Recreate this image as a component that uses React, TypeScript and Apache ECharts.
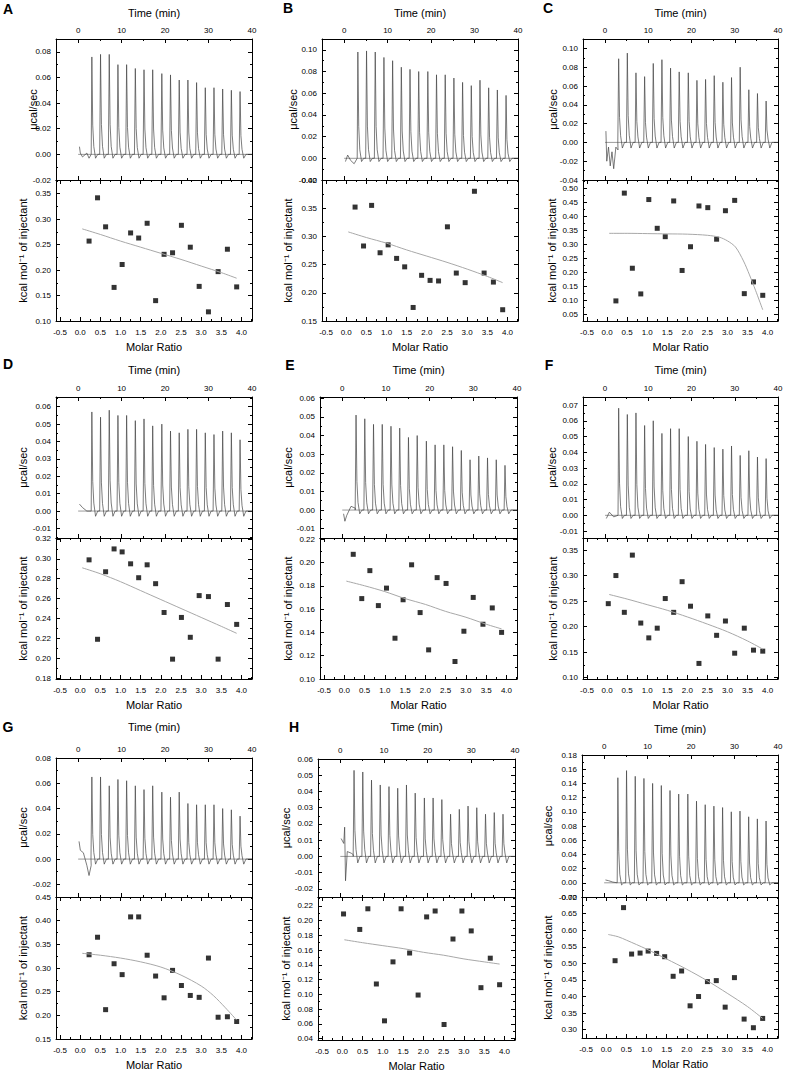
import React, { useEffect, useRef } from "react";
import * as echarts from "echarts";

const FONT = '"Liberation Sans", Arial, Helvetica, sans-serif';

// shared axes
const TIME_RANGE = [-5.1, 40];
const MOLAR_RANGE = [-0.6, 4.26];
const TIME_MAJOR = [0, 10, 20, 30, 40];
const TIME_MINOR = [-5, 5, 15, 25, 35];
const MOLAR_MAJOR = [-0.5, 0, 0.5, 1, 1.5, 2, 2.5, 3, 3.5, 4];
const MOLAR_MINOR = [-0.25, 0.25, 0.75, 1.25, 1.75, 2.25, 2.75, 3.25, 3.75, 4.25];
const INJ_TIMES = [3.1, 5.1, 7.1, 9.1, 11.1, 13.1, 15.1, 17.1, 19.2, 21.2, 23.2, 25.2, 27.2, 29.2, 31.2, 33.2, 35.2, 37.2];
const MR18 = [0.22, 0.43, 0.63, 0.84, 1.04, 1.25, 1.45, 1.66, 1.87, 2.08, 2.29, 2.51, 2.73, 2.95, 3.18, 3.42, 3.65, 3.88];
const MR_F = [0.03, 0.22, 0.43, 0.63, 0.84, 1.04, 1.25, 1.45, 1.66, 1.87, 2.08, 2.29, 2.51, 2.73, 2.95, 3.18, 3.42, 3.65, 3.88];
const MR_H = [0.03, 0.43, 0.63, 0.84, 1.04, 1.25, 1.45, 1.66, 1.87, 2.08, 2.29, 2.51, 2.73, 2.95, 3.18, 3.42, 3.65, 3.88];
// peak shape template (time offset, fraction of peak height)
const PEAK_DT = [-0.15, 0.05, 0.25, 0.5];
const PEAK_FRAC = [0, 1, 0.3, 0.08];

// Panel A
const A_PEAKS = [0.076, 0.078, 0.078, 0.07, 0.07, 0.067, 0.066, 0.066, 0.063, 0.062, 0.058, 0.058, 0.056, 0.052, 0.052, 0.051, 0.05, 0.049];
const A_HEATS = [0.257, 0.342, 0.285, 0.166, 0.211, 0.273, 0.263, 0.292, 0.14, 0.231, 0.234, 0.288, 0.245, 0.168, 0.118, 0.197, 0.241, 0.167];
const A_FIT = [[0.05, 0.281], [0.5, 0.27], [1, 0.257], [1.5, 0.245], [2, 0.233], [2.5, 0.221], [3, 0.208], [3.5, 0.195], [3.88, 0.184]];
const A_START = [[0.3, 0.006], [0.5, 0.001], [1, -0.002], [2, 0.001], [2.5, -0.003], [3, 0]];
// Panel B
const B_PEAKS = [0.098, 0.099, 0.098, 0.093, 0.09, 0.084, 0.082, 0.08, 0.08, 0.077, 0.077, 0.074, 0.07, 0.067, 0.072, 0.065, 0.063, 0.058];
const B_HEATS = [0.352, 0.283, 0.355, 0.271, 0.285, 0.261, 0.246, 0.174, 0.231, 0.222, 0.221, 0.317, 0.235, 0.218, 0.38, 0.235, 0.219, 0.17];
const B_FIT = [[0.05, 0.308], [0.5, 0.298], [1, 0.288], [1.5, 0.276], [2, 0.265], [2.5, 0.254], [3, 0.242], [3.5, 0.229], [3.88, 0.218]];
const B_START = [[0.3, -0.003], [0.8, 0.003], [1.5, -0.002], [2.3, -0.005], [3, 0]];
// Panel C
const C_PEAKS = [0.089, 0.095, 0.074, 0.07, 0.084, 0.088, 0.079, 0.075, 0.074, 0.066, 0.067, 0.071, 0.064, 0.069, 0.08, 0.056, 0.052, 0.044];
const C_HEATS = [0.097, 0.483, 0.214, 0.122, 0.46, 0.357, 0.327, 0.455, 0.206, 0.291, 0.437, 0.431, 0.318, 0.42, 0.457, 0.123, 0.165, 0.117];
const C_FIT = [[0.05, 0.339], [0.5, 0.339], [1, 0.338], [1.5, 0.337], [2, 0.336], [2.5, 0.332], [2.8, 0.325], [3.0, 0.312], [3.2, 0.29], [3.4, 0.24], [3.55, 0.19], [3.7, 0.135], [3.88, 0.065]];
const C_START = [[0.2, 0.012], [0.4, -0.02], [0.8, -0.005], [1.2, -0.025], [1.6, -0.01], [2, -0.028], [2.5, -0.005], [3, -0.008]];
// Panel D
const D_PEAKS = [0.057, 0.054, 0.058, 0.055, 0.055, 0.052, 0.053, 0.049, 0.05, 0.046, 0.045, 0.047, 0.047, 0.045, 0.044, 0.046, 0.045, 0.041];
const D_HEATS = [0.299, 0.219, 0.287, 0.31, 0.307, 0.295, 0.281, 0.294, 0.275, 0.246, 0.199, 0.241, 0.221, 0.263, 0.262, 0.199, 0.254, 0.234];
const D_FIT = [[0.05, 0.291], [0.5, 0.285], [1, 0.277], [1.5, 0.268], [2, 0.259], [2.5, 0.25], [3, 0.241], [3.5, 0.232], [3.88, 0.225]];
const D_START = [[0.3, 0.004], [1, 0.002], [2, 0], [3, 0]];
// Panel E
const E_PEAKS = [0.051, 0.049, 0.046, 0.046, 0.045, 0.044, 0.039, 0.04, 0.037, 0.035, 0.035, 0.034, 0.032, 0.027, 0.029, 0.028, 0.027, 0.024];
const E_HEATS = [0.207, 0.169, 0.193, 0.163, 0.178, 0.135, 0.168, 0.198, 0.157, 0.125, 0.187, 0.182, 0.115, 0.141, 0.17, 0.147, 0.161, 0.14];
const E_FIT = [[0.05, 0.184], [0.5, 0.18], [1, 0.175], [1.5, 0.169], [2, 0.164], [2.5, 0.158], [3, 0.153], [3.5, 0.147], [3.88, 0.143]];
const E_START = [[0.3, -0.002], [0.6, -0.006], [1, -0.003], [2, 0.002], [3, 0.001]];
// Panel F
const F_PEAKS = [0.068, 0.064, 0.065, 0.057, 0.06, 0.052, 0.055, 0.055, 0.05, 0.047, 0.045, 0.043, 0.042, 0.044, 0.038, 0.041, 0.037, 0.036];
const F_HEATS = [0.245, 0.3, 0.228, 0.34, 0.207, 0.178, 0.197, 0.255, 0.228, 0.288, 0.24, 0.128, 0.221, 0.183, 0.211, 0.148, 0.197, 0.154, 0.152];
const F_FIT = [[0.05, 0.263], [0.5, 0.254], [1, 0.243], [1.5, 0.232], [2, 0.219], [2.5, 0.205], [3, 0.19], [3.5, 0.172], [3.88, 0.156]];
const F_START = [[0.3, -0.002], [1, 0.002], [2, -0.001], [3, 0]];
// Panel G
const G_PEAKS = [0.065, 0.065, 0.058, 0.063, 0.062, 0.058, 0.055, 0.058, 0.053, 0.049, 0.053, 0.044, 0.043, 0.043, 0.043, 0.04, 0.039, 0.034];
const G_HEATS = [0.328, 0.365, 0.212, 0.309, 0.286, 0.408, 0.408, 0.327, 0.283, 0.237, 0.295, 0.263, 0.242, 0.238, 0.321, 0.196, 0.197, 0.187];
const G_FIT = [[0.05, 0.331], [0.5, 0.327], [1, 0.321], [1.5, 0.313], [2, 0.302], [2.5, 0.285], [3, 0.262], [3.3, 0.242], [3.6, 0.216], [3.88, 0.19]];
const G_START = [[0.2, 0.014], [0.5, 0.007], [1.2, 0.005], [2, -0.005], [2.5, -0.013], [3, -0.005]];
// Panel H
const H_PEAKS = [0.053, 0.052, 0.047, 0.044, 0.043, 0.042, 0.044, 0.039, 0.036, 0.036, 0.035, 0.026, 0.029, 0.031, 0.03, 0.026, 0.027, 0.026];
const H_HEATS = [0.209, 0.188, 0.216, 0.114, 0.064, 0.144, 0.216, 0.156, 0.099, 0.205, 0.213, 0.059, 0.175, 0.213, 0.186, 0.109, 0.149, 0.113];
const H_FIT = [[0.05, 0.174], [0.5, 0.17], [1, 0.166], [1.5, 0.162], [2, 0.157], [2.5, 0.153], [3, 0.148], [3.5, 0.144], [3.88, 0.141]];
const H_START = [[0.2, 0.011], [0.8, 0.008], [1, 0.018], [1.2, -0.015], [1.6, 0.003], [2.5, 0.002], [3, 0.001]];
// Panel I
const I_PEAKS = [0.148, 0.158, 0.15, 0.147, 0.14, 0.137, 0.13, 0.125, 0.125, 0.115, 0.11, 0.108, 0.106, 0.1, 0.101, 0.093, 0.09, 0.087];
const I_HEATS = [0.508, 0.668, 0.528, 0.531, 0.537, 0.53, 0.52, 0.461, 0.477, 0.372, 0.4, 0.445, 0.448, 0.368, 0.457, 0.332, 0.306, 0.334];
const I_FIT = [[0.05, 0.587], [0.3, 0.58], [0.5, 0.57], [1, 0.543], [1.5, 0.513], [2, 0.482], [2.5, 0.448], [3, 0.41], [3.5, 0.37], [3.88, 0.334]];
const I_START = [[0.3, 0.004], [1, 0.003], [2, 0.001], [3, 0]];

type Panel = {
  letter: string;
  l: number; r: number; t: number; m: number; b: number;
  topY: number[]; topStep: number; topMinor: number;
  botY: number[]; botStep: number; botMinor: number;
  peaks: number[]; start: number[][]; dip: number;
  mr: number[]; heats: number[]; fit: number[][];
  topGap: number; botGap: number; titleGap: number;
  lx: number; ly: number;
};

const PANELS: Panel[] = [
  { letter: "A", l: 56, r: 252, t: 39, m: 180, b: 321, topY: [-0.02, 0.09], topStep: 0.02, topMinor: 0.01, botY: [0.1, 0.377], botStep: 0.05, botMinor: 0.025, peaks: A_PEAKS, start: A_START, dip: -0.003, mr: MR18, heats: A_HEATS, fit: A_FIT, topGap: 23, botGap: 33, titleGap: 26, lx: 8, ly: 9 },
  { letter: "B", l: 322, r: 518, t: 39, m: 180, b: 321, topY: [-0.02, 0.11], topStep: 0.02, topMinor: 0.01, botY: [0.15, 0.4], botStep: 0.05, botMinor: 0.025, peaks: B_PEAKS, start: B_START, dip: -0.003, mr: MR18, heats: B_HEATS, fit: B_FIT, topGap: 29, botGap: 34, titleGap: 26, lx: 288, ly: 8 },
  { letter: "C", l: 583, r: 778, t: 39, m: 180, b: 321, topY: [-0.04, 0.11], topStep: 0.02, topMinor: 0.01, botY: [0.025, 0.53], botStep: 0.05, botMinor: 0.025, peaks: C_PEAKS, start: C_START, dip: -0.006, mr: MR18, heats: C_HEATS, fit: C_FIT, topGap: 30, botGap: 31, titleGap: 26, lx: 548, ly: 8 },
  { letter: "D", l: 56, r: 252, t: 397, m: 538, b: 679, topY: [-0.0155, 0.0656], topStep: 0.01, topMinor: 0.005, botY: [0.179, 0.321], botStep: 0.02, botMinor: 0.01, peaks: D_PEAKS, start: D_START, dip: -0.003, mr: MR18, heats: D_HEATS, fit: D_FIT, topGap: 33, botGap: 33, titleGap: 27, lx: 8, ly: 364 },
  { letter: "E", l: 320, r: 517, t: 397, m: 538, b: 679, topY: [-0.015, 0.0607], topStep: 0.01, topMinor: 0.005, botY: [0.1, 0.221], botStep: 0.02, botMinor: 0.01, peaks: E_PEAKS, start: E_START, dip: -0.002, mr: MR18, heats: E_HEATS, fit: E_FIT, topGap: 32, botGap: 32, titleGap: 27, lx: 290, ly: 365 },
  { letter: "F", l: 583, r: 778, t: 397, m: 538, b: 679, topY: [-0.0144, 0.0751], topStep: 0.01, topMinor: 0.005, botY: [0.0975, 0.3735], botStep: 0.05, botMinor: 0.025, peaks: F_PEAKS, start: F_START, dip: -0.002, mr: MR_F, heats: F_HEATS, fit: F_FIT, topGap: 31, botGap: 30, titleGap: 27, lx: 549, ly: 365 },
  { letter: "G", l: 56, r: 252, t: 758, m: 897, b: 1039, topY: [-0.03, 0.08], topStep: 0.02, topMinor: 0.01, botY: [0.15, 0.45], botStep: 0.05, botMinor: 0.025, peaks: G_PEAKS, start: G_START, dip: -0.004, mr: MR18, heats: G_HEATS, fit: G_FIT, topGap: 33, botGap: 33, titleGap: 31, lx: 8, ly: 727 },
  { letter: "H", l: 318, r: 515, t: 759, m: 897, b: 1040, topY: [-0.025, 0.06], topStep: 0.01, topMinor: 0.005, botY: [0.038, 0.232], botStep: 0.02, botMinor: 0.01, peaks: H_PEAKS, start: H_START, dip: -0.004, mr: MR_H, heats: H_HEATS, fit: H_FIT, topGap: 32, botGap: 32, titleGap: 32, lx: 294, ly: 727 },
  { letter: "", l: 582, r: 778, t: 755, m: 897, b: 1038, topY: [-0.02, 0.18], topStep: 0.02, topMinor: 0.01, botY: [0.275, 0.7], botStep: 0.05, botMinor: 0.025, peaks: I_PEAKS, start: I_START, dip: -0.003, mr: MR18, heats: I_HEATS, fit: I_FIT, topGap: 34, botGap: 34, titleGap: 26, lx: 0, ly: 0 },
];

function tickValues(min: number, max: number, step: number, exclude?: number) {
  const out: number[] = [];
  const k0 = Math.ceil(min / step - 1e-6);
  const k1 = Math.floor(max / step + 1e-6);
  for (let k = k0; k <= k1; k++) {
    const v = Math.round(k * step * 1e6) / 1e6;
    if (exclude) {
      const q = v / exclude;
      if (Math.abs(q - Math.round(q)) < 1e-6) continue;
    }
    out.push(v);
  }
  return out;
}

function buildTrace(p: Panel) {
  const pts: number[][] = [...p.start];
  p.peaks.forEach((h, i) => {
    const t = INJ_TIMES[i];
    PEAK_DT.forEach((dt, j) => pts.push([t + dt, h * PEAK_FRAC[j]]));
    pts.push([t + 0.9, p.dip]);
    pts.push([t + 1.4, 0]);
  });
  pts.push([40, 0]);
  return pts;
}

const fmt2 = (v: number) => (Math.abs(v) < 1e-9 ? 0 : v).toFixed(2);

function App() {
  const ref = useRef<HTMLDivElement>(null);
  useEffect(() => {
    if (!ref.current) return;
    const chart = echarts.init(ref.current, null, { renderer: "svg" });
    const grid: any[] = [];
    const xAxis: any[] = [];
    const yAxis: any[] = [];
    const series: any[] = [];
    const graphic: any[] = [];

    const mkAxis = (arr: any[], gridIndex: number, position: string, range: number[], majors: number[], minors: number[], label: any) => {
      const base = {
        type: "value", gridIndex, position, min: range[0], max: range[1],
        splitLine: { show: false },
      };
      arr.push({
        ...base,
        axisLine: { show: true, onZero: false, lineStyle: { color: "#000", width: 1 } },
        axisTick: { show: true, inside: true, length: 4, customValues: majors, lineStyle: { color: "#000", width: 1 } },
        axisLabel: label
          ? { show: true, customValues: majors, formatter: label.fmt, fontSize: 8, fontFamily: FONT, color: "#000", margin: label.margin }
          : { show: false },
      });
      const idx = arr.length - 1;
      arr.push({
        ...base,
        axisLine: { show: false, onZero: false },
        axisTick: { show: true, inside: true, length: 2, customValues: minors, lineStyle: { color: "#000", width: 1 } },
        axisLabel: { show: false },
      });
      return idx;
    };

    const timeFmt = (v: number) => String(Math.round(v));
    const molFmt = (v: number) => (Math.abs(v) < 1e-9 ? 0 : v).toFixed(1);

    PANELS.forEach((p) => {
      const w = p.r - p.l;
      grid.push({ left: p.l, top: p.t, width: w, height: p.m - p.t, show: false, outerBoundsMode: "none" });
      const gT = grid.length - 1;
      grid.push({ left: p.l, top: p.m, width: w, height: p.b - p.m, show: false, outerBoundsMode: "none" });
      const gB = grid.length - 1;

      const tMaj = tickValues(p.topY[0], p.topY[1], p.topStep);
      const tMin = tickValues(p.topY[0], p.topY[1], p.topMinor, p.topStep);
      const bMaj = tickValues(p.botY[0], p.botY[1], p.botStep);
      const bMin = tickValues(p.botY[0], p.botY[1], p.botMinor, p.botStep);

      const xTime = mkAxis(xAxis, gT, "top", TIME_RANGE, TIME_MAJOR, TIME_MINOR, { fmt: timeFmt, margin: 5 });
      mkAxis(xAxis, gT, "bottom", TIME_RANGE, TIME_MAJOR, TIME_MINOR, null);
      const yTop = mkAxis(yAxis, gT, "left", p.topY, tMaj, tMin, { fmt: fmt2, margin: 5 });
      mkAxis(yAxis, gT, "right", p.topY, tMaj, tMin, null);

      const xMol = mkAxis(xAxis, gB, "bottom", MOLAR_RANGE, MOLAR_MAJOR, MOLAR_MINOR, { fmt: molFmt, margin: 7 });
      mkAxis(xAxis, gB, "top", MOLAR_RANGE, MOLAR_MAJOR, MOLAR_MINOR, null);
      const yBot = mkAxis(yAxis, gB, "left", p.botY, bMaj, bMin, { fmt: fmt2, margin: 5 });
      mkAxis(yAxis, gB, "right", p.botY, bMaj, bMin, null);

      series.push({
        type: "line", xAxisIndex: xTime, yAxisIndex: yTop, data: [[0, 0], [40, 0]],
        showSymbol: false, silent: true, lineStyle: { color: "#555", width: 0.6 }, clip: true,
      });
      series.push({
        type: "line", xAxisIndex: xTime, yAxisIndex: yTop, data: buildTrace(p),
        showSymbol: false, silent: true, lineStyle: { color: "#444", width: 0.7 }, clip: true,
      });
      series.push({
        type: "line", xAxisIndex: xMol, yAxisIndex: yBot, data: p.fit, smooth: 0.3,
        showSymbol: false, silent: true, lineStyle: { color: "#a8a8a8", width: 1 }, clip: true,
      });
      series.push({
        type: "scatter", xAxisIndex: xMol, yAxisIndex: yBot,
        data: p.mr.map((x, i) => [x, p.heats[i]]),
        symbol: "rect", symbolSize: 5, itemStyle: { color: "#000" }, clip: false,
      });

      const cx = (p.l + p.r) / 2;
      const ts = { font: `11px ${FONT}`, fill: "#000", align: "center", verticalAlign: "middle", textAlign: "center", textVerticalAlign: "middle" };
      graphic.push({ type: "text", x: cx, y: p.t - p.titleGap, style: { ...ts, text: "Time (min)" } });
      graphic.push({ type: "text", x: cx, y: p.b + 26, style: { ...ts, text: "Molar Ratio" } });
      graphic.push({ type: "text", x: p.l - p.topGap, y: (p.t + p.m) / 2, rotation: Math.PI / 2, style: { ...ts, text: "μcal/sec" } });
      graphic.push({ type: "text", x: p.l - p.botGap, y: (p.m + p.b) / 2, rotation: Math.PI / 2, style: { ...ts, text: "kcal mol⁻¹ of injectant" } });
      if (p.letter) {
        graphic.push({ type: "text", x: p.lx, y: p.ly, style: { ...ts, font: `bold 14px ${FONT}`, text: p.letter } });
      }
    });

    chart.setOption({
      animation: false,
      backgroundColor: "#fff",
      textStyle: { fontFamily: FONT },
      grid, xAxis, yAxis, series, graphic,
    });
    return () => chart.dispose();
  }, []);
  return <div ref={ref} style={{ position: "absolute", left: 0, top: 0, width: 787, height: 1071 }} />;
}

export default App;
